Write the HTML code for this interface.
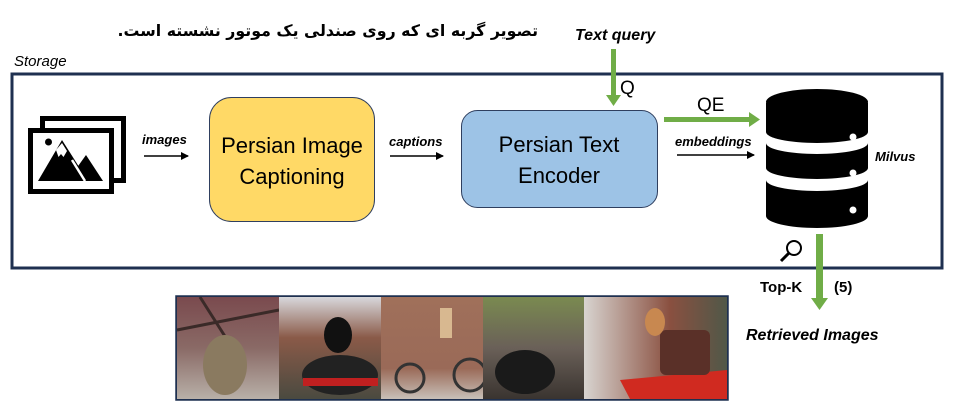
<!DOCTYPE html>
<html><head><meta charset="utf-8"><style>
html,body{margin:0;padding:0;background:#fff;width:955px;height:414px;overflow:hidden;position:relative}
svg{display:block}
text{font-family:"Liberation Sans","DejaVu Sans",sans-serif}
#fa{position:absolute;right:417px;top:19px;font-family:"DejaVu Sans",sans-serif;font-weight:bold;font-size:15.8px;direction:rtl;white-space:nowrap;line-height:24px}
</style></head><body>
<svg width="955" height="414" viewBox="0 0 955 414" xmlns="http://www.w3.org/2000/svg">
<defs>
<marker id="ah" markerWidth="8" markerHeight="8" refX="7" refY="4" orient="auto" markerUnits="userSpaceOnUse"><path d="M0,0 L8,4 L0,8 Z" fill="#000"/></marker>
<linearGradient id="p1" x1="0" y1="0" x2="0" y2="1"><stop offset="0" stop-color="#7a4a4e"/><stop offset="0.5" stop-color="#8a6a66"/><stop offset="1" stop-color="#b8b0a8"/></linearGradient>
<linearGradient id="p2" x1="0" y1="0" x2="0" y2="1"><stop offset="0" stop-color="#d8d8dc"/><stop offset="0.4" stop-color="#8a5a48"/><stop offset="1" stop-color="#4a4a40"/></linearGradient>
<linearGradient id="p3" x1="0" y1="0" x2="0" y2="1"><stop offset="0" stop-color="#a0705a"/><stop offset="0.7" stop-color="#9a6a58"/><stop offset="1" stop-color="#c8c0b8"/></linearGradient>
<linearGradient id="p4" x1="0" y1="0" x2="0" y2="1"><stop offset="0" stop-color="#7a8a50"/><stop offset="0.5" stop-color="#6a6058"/><stop offset="1" stop-color="#3a3430"/></linearGradient>
<linearGradient id="p5" x1="0" y1="0" x2="1" y2="0"><stop offset="0" stop-color="#d8d4d0"/><stop offset="0.6" stop-color="#8a5040"/><stop offset="1" stop-color="#505848"/></linearGradient>
</defs>

<text x="575" y="40" font-size="16" font-weight="bold" font-style="italic">Text query</text>
<text x="14" y="66" font-size="15" font-style="italic">Storage</text>

<rect x="12" y="74" width="930" height="194" fill="none" stroke="#1f3050" stroke-width="3"/>

<rect x="42.5" y="118.5" width="81" height="62" fill="#fff" stroke="#000" stroke-width="5"/>
<rect x="30.5" y="130.5" width="81" height="61" fill="#fff" stroke="#000" stroke-width="5"/>
<circle cx="48.5" cy="142" r="3.5" fill="#000"/>
<path d="M62 140 L38 181 L88 181 Z" fill="#000"/>
<path d="M56 150 L58.5 157 L61 154 L63.5 157 L67 151 L62 143 Z" fill="#fff"/>
<path d="M86 155 L76 169 L87 181 L103 181 Z" fill="#000"/>
<line x1="85" y1="181" x2="72" y2="160" stroke="#fff" stroke-width="2.5"/>

<text x="142" y="144" font-size="13" font-weight="bold" font-style="italic">images</text>
<line x1="144" y1="156" x2="188" y2="156" stroke="#000" stroke-width="1.5" marker-end="url(#ah)"/>

<rect x="209.5" y="97.5" width="165" height="124" rx="22" fill="#ffd966" stroke="#2f3f5f" stroke-width="1"/>
<text x="292" y="153" text-anchor="middle" font-size="22">Persian Image</text>
<text x="292" y="184" text-anchor="middle" font-size="22">Captioning</text>

<text x="389" y="146" font-size="13" font-weight="bold" font-style="italic">captions</text>
<line x1="390" y1="156" x2="443" y2="156" stroke="#000" stroke-width="1.5" marker-end="url(#ah)"/>

<rect x="461.5" y="110.5" width="196" height="97" rx="16" fill="#9dc3e6" stroke="#2f3f5f" stroke-width="1"/>
<text x="559" y="152" text-anchor="middle" font-size="22">Persian Text</text>
<text x="559" y="183" text-anchor="middle" font-size="22">Encoder</text>

<rect x="611" y="49" width="5" height="47" fill="#70ad47"/>
<path d="M606 95 L621 95 L613.5 106 Z" fill="#70ad47"/>
<text x="620" y="94" font-size="19">Q</text>

<rect x="664" y="117" width="86" height="5" fill="#70ad47"/>
<path d="M749 112 L760 119.5 L749 127 Z" fill="#70ad47"/>
<text x="697" y="111" font-size="19">QE</text>

<text x="675" y="146" font-size="13" font-weight="bold" font-style="italic">embeddings</text>
<line x1="677" y1="155" x2="754" y2="155" stroke="#000" stroke-width="1.5" marker-end="url(#ah)"/>

<path d="M766 103 L766 132 A51 11 0 0 0 868 132 L868 103 Z" fill="#000"/>
<ellipse cx="817" cy="102" rx="51" ry="13" fill="#000"/>
<path d="M766 143 L766 168 A51 11 0 0 0 868 168 L868 143 A51 11 0 0 1 766 143 Z" fill="#000"/>
<path d="M766 180 L766 216 A51 12 0 0 0 868 216 L868 180 A51 11 0 0 1 766 180 Z" fill="#000"/>
<circle cx="853" cy="137" r="3.5" fill="#fff"/>
<circle cx="853" cy="173" r="3.5" fill="#fff"/>
<circle cx="853" cy="210" r="3.5" fill="#fff"/>
<text x="875" y="161" font-size="13" font-weight="bold" font-style="italic">Milvus</text>

<circle cx="794" cy="248" r="7" fill="none" stroke="#000" stroke-width="2"/>
<line x1="789" y1="253" x2="781" y2="261" stroke="#000" stroke-width="3"/>

<rect x="816" y="234" width="7" height="65" fill="#70ad47"/>
<path d="M811 298 L828 298 L819.5 310 Z" fill="#70ad47"/>
<text x="760" y="292" font-size="15" font-weight="bold">Top-K</text>
<text x="834" y="292" font-size="15" font-weight="bold">(5)</text>
<text x="746" y="340" font-size="16" font-weight="bold" font-style="italic">Retrieved Images</text>

<rect x="176" y="296" width="552" height="104" fill="#1f3050"/>
<rect x="177" y="297" width="102" height="102" fill="url(#p1)"/>
<path d="M177 330 L279 310 M200 297 L240 360" stroke="#3a2a28" stroke-width="3"/>
<ellipse cx="225" cy="365" rx="22" ry="30" fill="#8a7a60"/>
<rect x="279" y="297" width="102" height="102" fill="url(#p2)"/>
<ellipse cx="340" cy="375" rx="38" ry="20" fill="#222"/>
<rect x="303" y="378" width="75" height="8" fill="#c02020"/>
<ellipse cx="338" cy="335" rx="14" ry="18" fill="#111"/>
<rect x="381" y="297" width="102" height="102" fill="url(#p3)"/>
<circle cx="410" cy="378" r="14" fill="none" stroke="#333" stroke-width="3"/>
<circle cx="470" cy="375" r="16" fill="none" stroke="#333" stroke-width="3"/>
<rect x="440" y="308" width="12" height="30" fill="#d8b890"/>
<rect x="483" y="297" width="101" height="102" fill="url(#p4)"/>
<ellipse cx="525" cy="372" rx="30" ry="22" fill="#1a1a1a"/>
<rect x="584" y="297" width="143" height="102" fill="url(#p5)"/>
<path d="M620 380 L727 370 L727 399 L630 399 Z" fill="#d02a20"/>
<rect x="660" y="330" width="50" height="45" rx="6" fill="#5a3028"/>
<ellipse cx="655" cy="322" rx="10" ry="14" fill="#c88850"/>
<rect x="176" y="296" width="552" height="104" fill="none" stroke="#1f3050" stroke-width="1.5"/>
</svg>
<div id="fa">تصویر گربه ای که روی صندلی یک موتور نشسته است.</div>
</body></html>
